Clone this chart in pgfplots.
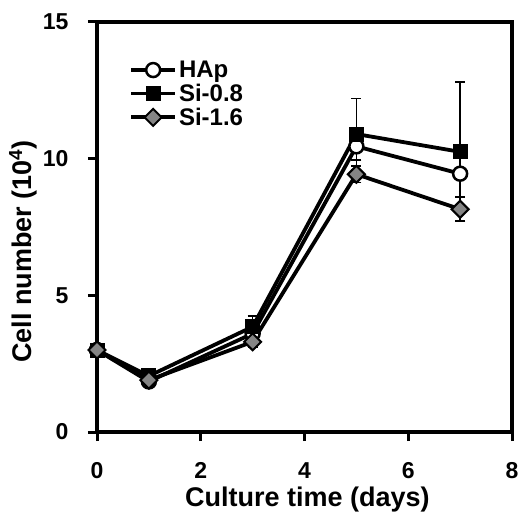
\documentclass[border=0pt]{standalone}
\usepackage{pgfplots}
\pgfplotsset{compat=1.18}
\usepackage{fontspec}
\setmainfont{Liberation Sans}
\definecolor{dgray}{HTML}{858585}

\begin{document}
\begin{tikzpicture}
\begin{axis}[
  width=415pt, height=410pt, scale only axis,
  xmin=0, xmax=8, ymin=0, ymax=15,
  xtick={0,2,4,6,8}, ytick={0,5,10,15},
  axis line style={line width=3.5pt},
  tick style={line width=3pt, black},
  tick align=outside, major tick length=9pt,
  xtick pos=bottom, ytick pos=left,
  /pgf/number format/assume math mode=true,
  ticklabel style={font=\fontsize{23}{25}\selectfont\bfseries},
  xticklabel style={yshift=-18pt},
  yticklabel style={xshift=-16pt},
  xlabel={Culture time (days)},
  ylabel={Cell number (10\textsuperscript{4})},
  label style={font=\fontsize{27}{30}\selectfont\bfseries},
  xlabel style={at={(axis description cs:0.507,0)}, anchor=center, yshift=-68pt},
  ylabel style={at={(axis description cs:0,0.44)}, anchor=center, yshift=74pt},
  legend style={at={(0.07,0.915)}, anchor=north west, draw=none, fill=none,
    font=\fontsize{24}{27}\selectfont\bfseries, row sep=1pt,
    /tikz/every even column/.append style={column sep=8pt}},
  legend cell align=left,
  legend image code/.code={
    \draw[#1, mark repeat=2, mark phase=2] plot coordinates {(0pt,0pt) (22pt,0pt) (44pt,0pt)};
  },
  every axis plot/.append style={line width=3.8pt},
  error bars/y dir=both, error bars/y explicit,
  error bars/error bar style={line width=1.6pt, black},
  error bars/error mark options={rotate=90, mark size=5pt, line width=1.6pt, black},
]
\addplot[black, mark=*, mark size=7pt, mark options={fill=white, line width=2.5pt}]
  coordinates {
  (0,3.0) +- (0,0.1)
  (1,1.85) +- (0,0.1)
  (3,3.6) +- (0,0.3)
  (5,10.45) +- (0,0.5)
  (7,9.45) +- (0,0.85)
};
\addlegendentry{HAp}
\addplot[black, mark=square*, mark size=7pt, mark options={fill=black, line width=1pt}]
  coordinates {
  (0,3.0) +- (0,0.1)
  (1,2.05) +- (0,0.1)
  (3,3.85) +- (0,0.4)
  (5,10.9) +- (0,1.3)
  (7,10.25) +- (0,2.55)
};
\addlegendentry{Si-0.8}
\addplot[black, mark=square*, mark size=6pt, mark options={fill=dgray, line width=2pt, rotate=45}]
  coordinates {
  (0,3.0) +- (0,0.1)
  (1,1.9) +- (0,0.1)
  (3,3.3) +- (0,0.2)
  (5,9.43) +- (0,0.3)
  (7,8.15) +- (0,0.43)
};
\addlegendentry{Si-1.6}
\end{axis}
\pgfresetboundingbox
\path ([shift={(-97pt,-83pt)}]current axis.south west) rectangle ([shift={(9pt,22pt)}]current axis.north east);
\end{tikzpicture}
\end{document}
